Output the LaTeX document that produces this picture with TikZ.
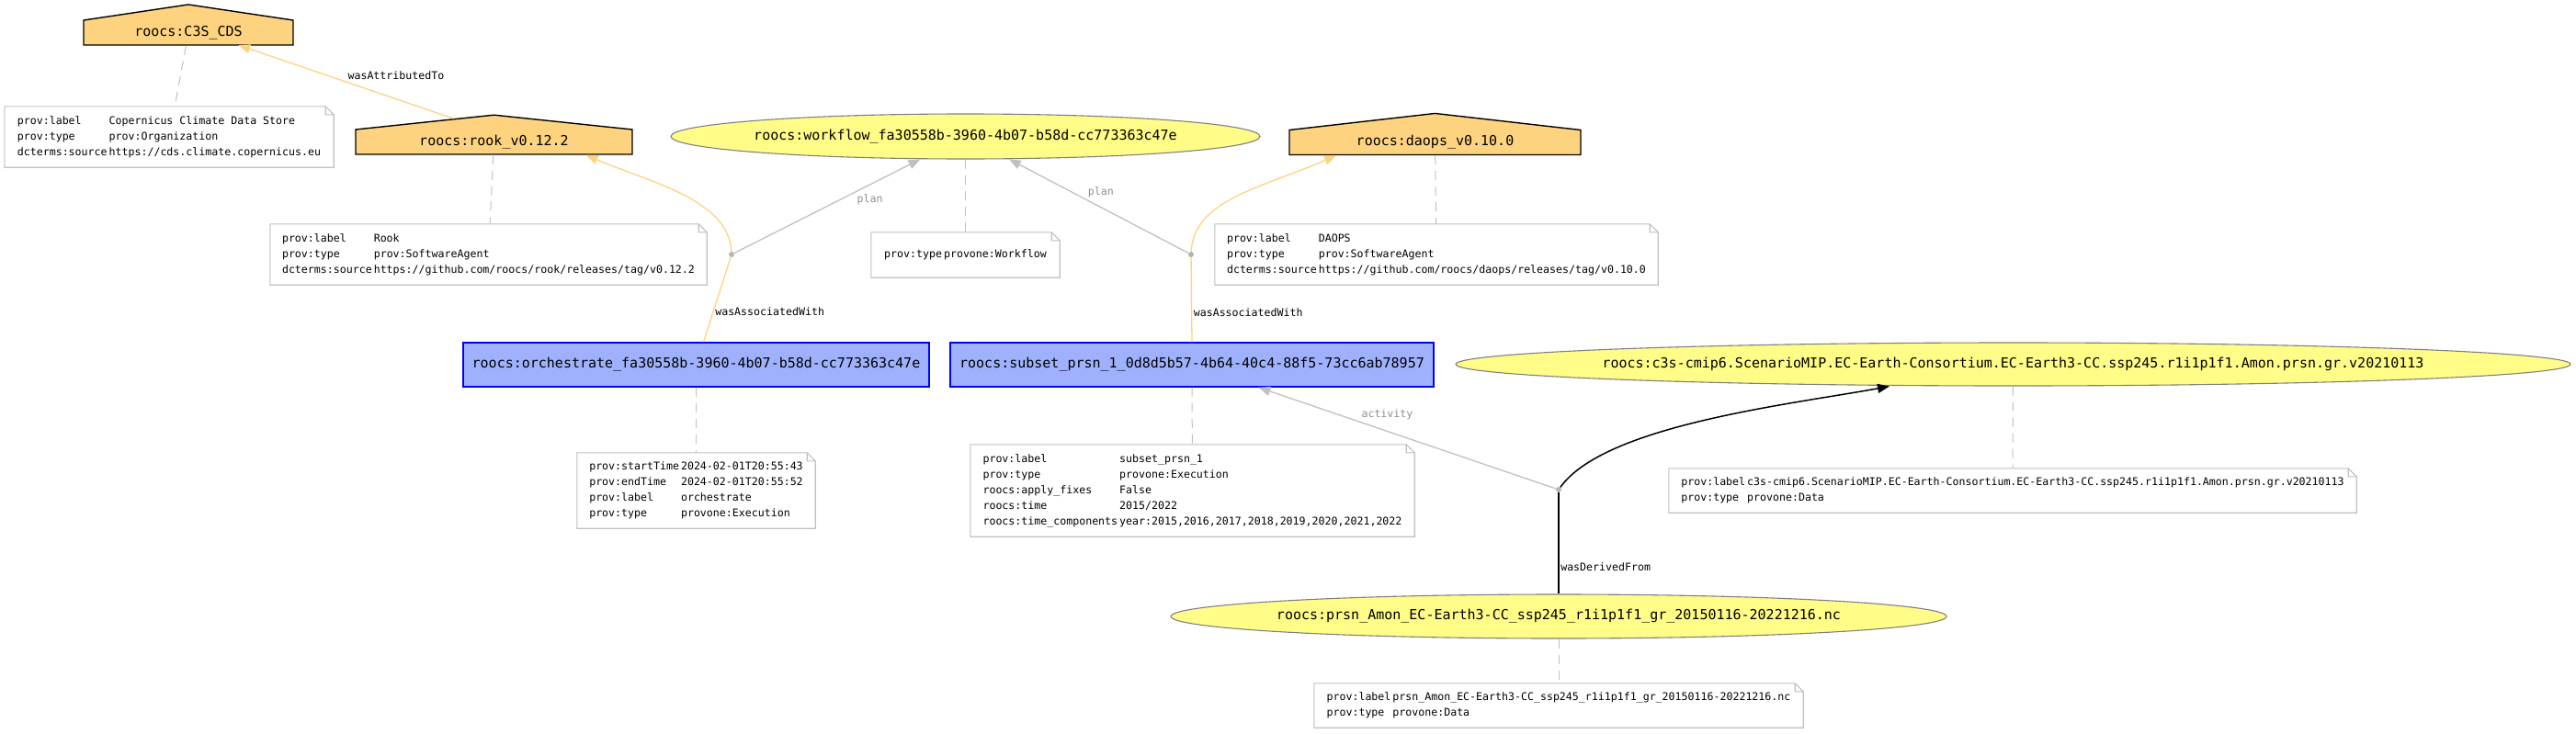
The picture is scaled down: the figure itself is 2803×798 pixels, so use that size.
\documentclass[tikz,border=0pt]{standalone}
\usepackage{fontspec}
\usepackage{tikz}
\usetikzlibrary{arrows.meta,shapes.geometric,shapes.symbols}

\newfontfamily\provmono{DejaVu Sans Mono}
\newcommand{\labelfont}{\provmono\fontsize{15}{18}\selectfont}
\newcommand{\notefont}{\provmono\fontsize{11.6}{17}\selectfont}
\newcommand{\provtab}[1]{\begin{tabular}{@{}l@{\hspace{2pt}}l@{}}#1\end{tabular}}
\newcommand{\notebox}[1]{\draw[notebd] (#1.south west) -- (#1.north west) -- ([xshift=-9pt]#1.north east) -- ([yshift=-9pt]#1.north east) -- (#1.south east) -- cycle ([xshift=-9pt]#1.north east) |- ([yshift=-9pt]#1.north east);}

\definecolor{agentfill}{HTML}{FED37F}
\definecolor{actfill}{HTML}{9FB1FC}
\definecolor{entfill}{HTML}{FFFC87}
\definecolor{entline}{HTML}{808080}
\definecolor{lightgr}{HTML}{C0C0C0}
\definecolor{dotgr}{HTML}{B4B4B4}
\definecolor{labelgr}{HTML}{8E8E8E}

\begin{document}
\begin{tikzpicture}[x=1pt,y=-1pt,
    agent/.style={signal,signal to=north,draw=black,line width=1.4pt,fill=agentfill,font=\labelfont,text height=11pt,text depth=4pt,inner xsep=0pt,inner ysep=6pt},
    activity/.style={rectangle,draw=blue,line width=1.4pt,fill=actfill,font=\labelfont,text height=11pt,text depth=4pt,inner sep=0pt,minimum height=48},
    entity/.style={ellipse,draw=entline,line width=1.1pt,fill=entfill,font=\labelfont,text height=11pt,text depth=4pt,inner ysep=0pt,inner xsep=-40pt},
    note/.style={rectangle,fill=white,font=\notefont,inner sep=0pt},
    notebd/.style={draw=lightgr,line width=1.1pt},
    blank/.style={circle,fill=dotgr,inner sep=0pt,minimum size=6pt},
    annot/.style={draw=lightgr,line width=1pt,dash pattern=on 10pt off 7pt},
    assoc/.style={draw=agentfill,line width=1.3pt},
    planline/.style={draw=lightgr,line width=1.3pt},
    derived/.style={draw=black,line width=1.5pt},
    tip/.style={-{Triangle[length=13pt,width=10pt]}},
    edgelab/.style={font=\notefont,inner sep=1.5pt},
    greylab/.style={edgelab,text=labelgr}
]
\useasboundingbox (0,0) rectangle (2803,798);

% agents, activities, entities
\node[agent,minimum width=228,signal pointer angle=163] (cds) at (205,35.5) {roocs:C3S\_CDS};
\node[agent,minimum width=301,signal pointer angle=168] (rook) at (537.5,154.5) {roocs:rook\_v0.12.2};
\node[agent,minimum width=317,signal pointer angle=167] (daops) at (1561.5,155) {roocs:daops\_v0.10.0};
\node[entity,minimum width=641,minimum height=49] (wflow) at (1050.5,148.5) {roocs:workflow\_fa30558b-3960-4b07-b58d-cc773363c47e};
\node[activity,minimum width=507] (orch) at (757.5,397) {roocs:orchestrate\_fa30558b-3960-4b07-b58d-cc773363c47e};
\node[activity,minimum width=526] (subset) at (1297,397) {roocs:subset\_prsn\_1\_0d8d5b57-4b64-40c4-88f5-73cc6ab78957};
\node[entity,minimum width=1213,minimum height=47] (cmip) at (2190.5,396.5) {roocs:c3s-cmip6.ScenarioMIP.EC-Earth-Consortium.EC-Earth3-CC.ssp245.r1i1p1f1.Amon.prsn.gr.v20210113};
\node[entity,minimum width=844,minimum height=48] (prsn) at (1696,671) {roocs:prsn\_Amon\_EC-Earth3-CC\_ssp245\_r1i1p1f1\_gr\_20150116-20221216.nc};

\node[blank] (b1) at (796,277) {};
\node[blank] (b2) at (1296,277) {};
\node[blank] (b3) at (1696,533) {};

% annotations
\node[note,minimum width=358,minimum height=66] (cdsnote) at (184,149) {\provtab{prov:label & Copernicus Climate Data Store\\ prov:type & prov:Organization\\ dcterms:source & https://cds.climate.copernicus.eu}};
\node[note,minimum width=475,minimum height=66] (rooknote) at (531.5,277) {\provtab{prov:label & Rook\\ prov:type & prov:SoftwareAgent\\ dcterms:source & https://github.com/roocs/rook/releases/tag/v0.12.2}};
\node[note,minimum width=205,minimum height=49] (wflownote) at (1050.5,277.5) {\provtab{prov:type & provone:Workflow}};
\node[note,minimum width=482,minimum height=66] (daopsnote) at (1563,277) {\provtab{prov:label & DAOPS\\ prov:type & prov:SoftwareAgent\\ dcterms:source & https://github.com/roocs/daops/releases/tag/v0.10.0}};
\node[note,minimum width=259,minimum height=82] (orchnote) at (757.5,534) {\provtab{prov:startTime & 2024-02-01T20:55:43\\ prov:endTime & 2024-02-01T20:55:52\\ prov:label & orchestrate\\ prov:type & provone:Execution}};
\node[note,minimum width=483,minimum height=100] (subsetnote) at (1297.5,534) {\provtab{prov:label & subset\_prsn\_1\\ prov:type & provone:Execution\\ roocs:apply\_fixes & False\\ roocs:time & 2015/2022\\ roocs:time\_components & year:2015,2016,2017,2018,2019,2020,2021,2022}};
\node[note,minimum width=748,minimum height=48] (cmipnote) at (2190,534) {\provtab{prov:label & c3s-cmip6.ScenarioMIP.EC-Earth-Consortium.EC-Earth3-CC.ssp245.r1i1p1f1.Amon.prsn.gr.v20210113\\ prov:type & provone:Data}};
\node[note,minimum width=532,minimum height=48] (prsnnote) at (1696,768) {\provtab{prov:label & prsn\_Amon\_EC-Earth3-CC\_ssp245\_r1i1p1f1\_gr\_20150116-20221216.nc\\ prov:type & provone:Data}};
\notebox{cdsnote}
\notebox{rooknote}
\notebox{wflownote}
\notebox{daopsnote}
\notebox{orchnote}
\notebox{subsetnote}
\notebox{cmipnote}
\notebox{prsnnote}

\draw[annot] (cds) -- (cdsnote);
\draw[annot] (rook) -- (rooknote);
\draw[annot] (wflow) -- (wflownote);
\draw[annot] (daops) -- (daopsnote);
\draw[annot] (orch) -- (orchnote);
\draw[annot] (subset) -- (subsetnote);
\draw[annot] (cmip) -- (cmipnote);
\draw[annot] (prsn) -- (prsnnote);

% relations
\draw[assoc,tip] (rook.150) -- (cds.-14) node[edgelab,pos=0.5,anchor=south west] {wasAttributedTo};
\draw[assoc] ([xshift=8pt]orch.north) -- (b1) node[edgelab,pos=0.36,anchor=west] {wasAssociatedWith};
\draw[assoc,tip] (b1) .. controls +(-3,-60) and +(70,30) .. ([xshift=100pt]rook.south);
\draw[planline,tip] (b1) -- (wflow) node[greylab,pos=0.65,anchor=north west] {plan};
\draw[assoc] (subset.north) -- (b2) node[edgelab,pos=0.35,anchor=west] {wasAssociatedWith};
\draw[assoc,tip] (b2) .. controls +(3,-60) and +(-80,35) .. ([xshift=-107.5pt]daops.south);
\draw[planline,tip] (b2) -- (wflow) node[greylab,pos=0.57,anchor=south west] {plan};
\draw[derived] (prsn) -- (b3) node[edgelab,pos=0.27,anchor=west] {wasDerivedFrom};
\draw[derived,tip] (b3) .. controls +(50,-70) and +(-110,20) .. ([xshift=-134.5pt]cmip.south);
\draw[planline,tip] (b3) -- (subset) node[greylab,pos=0.66,anchor=south west] {activity};
\end{tikzpicture}
\end{document}
